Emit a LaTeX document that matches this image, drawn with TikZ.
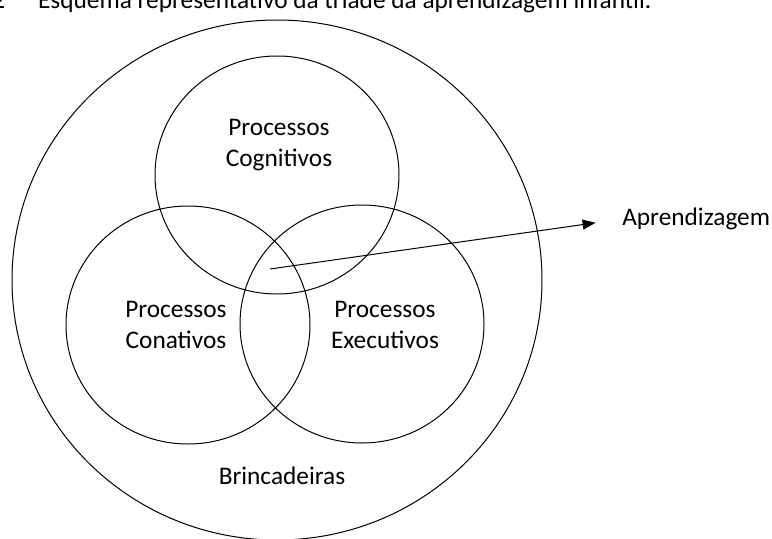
\documentclass[tikz,border=0pt]{standalone}
\usepackage{fontspec}
\setmainfont{Carlito}
\usetikzlibrary{shapes.geometric,arrows.meta}
\tikzset{
  set/.style={draw, ellipse, line width=0.75pt, inner sep=0pt},
  small set/.style={set, minimum width=183pt, minimum height=178.5pt},
  lbl/.style={align=center, font=\fontsize{19}{23}\selectfont, inner sep=0pt},
}
\begin{document}
\begin{tikzpicture}[x=0.75pt,y=-0.75pt]
  \useasboundingbox (0,0) rectangle (772,539);
  \clip (0,0) rectangle (772,539);
  % caption line, cut by the page top
  \node[lbl, anchor=base west] (cap) at (-8,8)
    {2\hspace{24.75pt}Esquema representativo da tríade da aprendizagem infantil.};
  % the four sets
  \node[set, minimum width=397.5pt, minimum height=390pt] (brinc) at (277,280) {};
  \node[small set] (cog) at (277,175) {};
  \node[small set] (con) at (188,325) {};
  \node[small set] (exe) at (362,324) {};
  % labels (base = last line)
  \node[lbl, anchor=base] (tcog) at (279,166) {Processos\\Cognitivos};
  \node[lbl, anchor=base] (tcon) at (176,348) {Processos\\Conativos};
  \node[lbl, anchor=base] (texe) at (385,348) {Processos\\Executivos};
  \node[lbl, anchor=base] (tbrinc) at (282,484) {Brincadeiras};
  \node[lbl, anchor=west] (apr) at (622,219) {Aprendizagem};
  % arrow out of the centre
  \coordinate (centro) at (270,269);
  \draw[line width=0.75pt, -{Triangle[length=9.75pt, width=7.5pt]}, shorten >=20pt]
    (centro) -- (apr.west);
\end{tikzpicture}
\end{document}
